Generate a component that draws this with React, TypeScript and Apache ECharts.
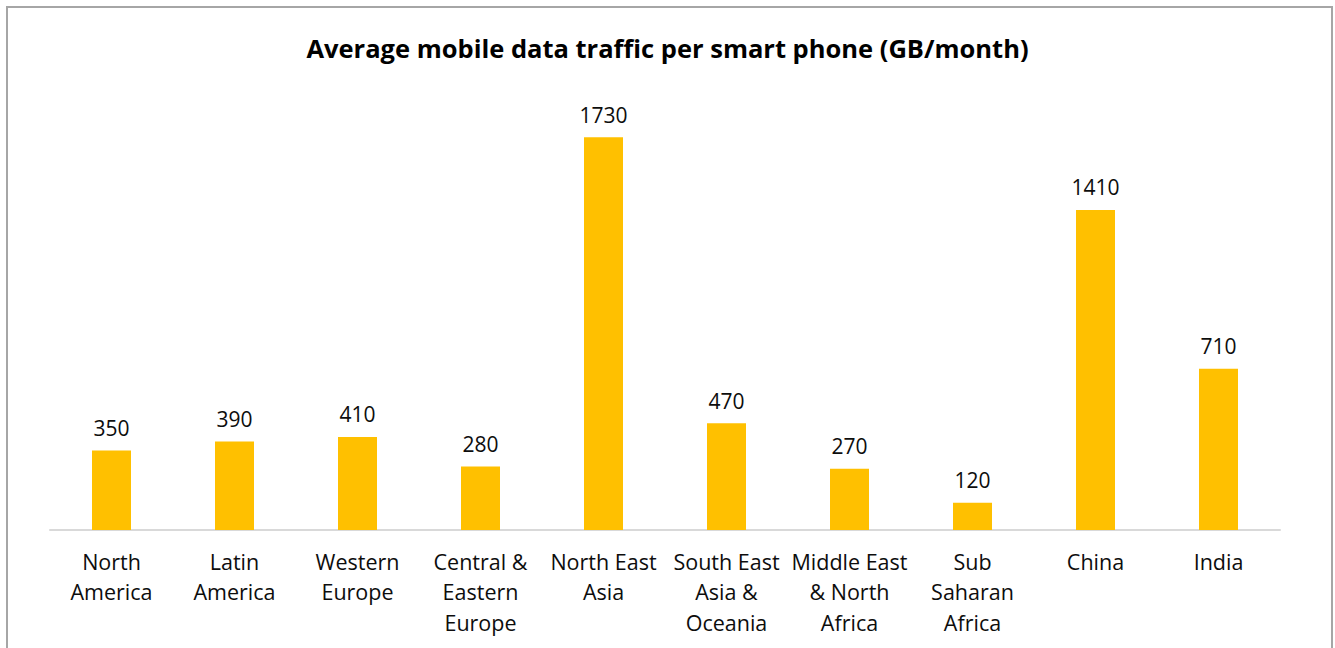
import React, { useEffect, useRef } from "react";
import * as echarts from "echarts";

const categories = [
  "North\nAmerica",
  "Latin\nAmerica",
  "Western\nEurope",
  "Central &\nEastern\nEurope",
  "North East\nAsia",
  "South East\nAsia &\nOceania",
  "Middle East\n& North\nAfrica",
  "Sub\nSaharan\nAfrica",
  "China",
  "India",
];
const values = [350, 390, 410, 280, 1730, 470, 270, 120, 1410, 710];
const titleText = "Average mobile data traffic per smart phone (GB/month)";

const FONT = "'Open Sans', 'Noto Sans', sans-serif";

export default function App() {
  const ref = useRef<HTMLDivElement>(null);
  useEffect(() => {
    if (!ref.current) return;
    const chart = echarts.init(ref.current, undefined, { renderer: "svg" });
    chart.setOption({
      animation: false,
      backgroundColor: "#ffffff",
      title: {
        text: titleText,
        left: "center",
        top: 30,
        textStyle: { fontFamily: FONT, fontSize: 25.5, fontWeight: "bold", color: "#000000" },
      },
      graphic: [
        {
          type: "rect",
          shape: { x: 7, y: 7, width: 1325, height: 700 },
          style: { fill: "none", stroke: "#a6a6a6", lineWidth: 2 },
          silent: true,
        },
      ],
      grid: { left: 50, right: 55, top: 76, height: 454, containLabel: false },
      xAxis: {
        type: "category",
        data: categories,
        axisLine: { show: true, lineStyle: { color: "#d9d9d9", width: 2 } },
        axisTick: { show: false },
        axisLabel: {
          interval: 0,
          margin: 16,
          fontFamily: FONT,
          fontSize: 21.5,
          lineHeight: 30.5,
          color: "#0d0d0d",
        },
      },
      yAxis: {
        type: "value",
        min: 0,
        max: 2000,
        show: false,
        splitLine: { show: false },
      },
      series: [
        {
          type: "bar",
          data: values,
          barWidth: 39,
          itemStyle: { color: "#FFC000" },
          label: {
            show: true,
            position: "top",
            distance: 12,
            fontFamily: FONT,
            fontSize: 21,
            color: "#0d0d0d",
          },
        },
      ],
    });
    return () => chart.dispose();
  }, []);
  return (
    <div
      ref={ref}
      style={{ position: "absolute", left: 0, top: 0, width: 1335, height: 648 }}
    />
  );
}
